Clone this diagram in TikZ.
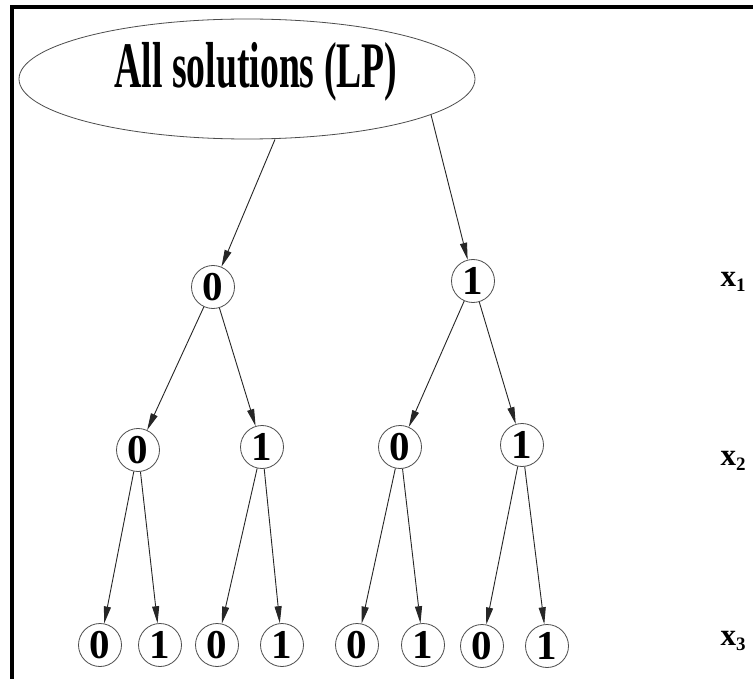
\documentclass[tikz,border=0pt]{standalone}
\usepackage{fontspec}
\usepackage{graphicx}
\setmainfont{Liberation Serif}
\usetikzlibrary{shapes.geometric, arrows.meta}

\newcommand{\xvar}[1]{{\bfseries x}\raisebox{-5pt}{\fontsize{19}{19}\selectfont\bfseries #1}}

\tikzset{
  bit/.style={circle, draw=black!70, line width=0.8pt, minimum size=43pt,
              inner sep=0pt, font=\fontsize{41}{41}\selectfont\bfseries},
  branch/.style={draw=black!85, line width=0.9pt, -{Triangle[length=17pt,width=7pt]}},
  varname/.style={anchor=base west, font=\fontsize{31}{31}\selectfont}
}

\begin{document}
\begin{tikzpicture}[x=1pt, y=-1pt]
  \path[use as bounding box, fill=white] (0,0) rectangle (753,679);
  % frame
  \draw[line width=4pt] (12,679) -- (12,7) -- (753,7);

  % root
  \node[ellipse, draw=black!70, line width=0.8pt, minimum width=456pt,
        minimum height=120pt, inner sep=0pt, text height=40pt, text depth=22pt]
    (root) at (247,79)
    {\hspace*{18pt}\scalebox{0.58}[1]{\fontsize{65}{65}\selectfont\bfseries All solutions (LP)}};

  % x1
  \node[bit] (a0) at (213,287) {0};
  \node[bit] (a1) at (473,281) {1};
  % x2
  \node[bit] (b00) at (138,450) {0};
  \node[bit] (b01) at (262,447) {1};
  \node[bit] (b10) at (400,447) {0};
  \node[bit] (b11) at (522,445) {1};
  % x3
  \node[bit] (c000) at (100,645) {0};
  \node[bit] (c001) at (160,645) {1};
  \node[bit] (c010) at (217,645) {0};
  \node[bit] (c011) at (282,645) {1};
  \node[bit] (c100) at (357,645) {0};
  \node[bit] (c101) at (423,645) {1};
  \node[bit] (c110) at (482,646) {0};
  \node[bit] (c111) at (547,646) {1};

  \draw[branch] ([xshift=28pt]root.south) -- (a0);
  \draw[branch] (root.-11.55) -- (a1);
  \draw[branch] (a0) -- (b00);
  \draw[branch] (a0) -- (b01);
  \draw[branch] (a1) -- (b10);
  \draw[branch] (a1) -- (b11);
  \draw[branch] (b00) -- (c000);
  \draw[branch] (b00) -- (c001);
  \draw[branch] (b01) -- (c010);
  \draw[branch] (b01) -- (c011);
  \draw[branch] (b10) -- (c100);
  \draw[branch] (b10) -- (c101);
  \draw[branch] (b11) -- (c110);
  \draw[branch] (b11) -- (c111);

  % variable names
  \node[varname] (v1) at (717,287) {\xvar{1}};
  \node[varname] (v2) at (717,465) {\xvar{2}};
  \node[varname] (v3) at (717,645) {\xvar{3}};
\end{tikzpicture}
\end{document}
